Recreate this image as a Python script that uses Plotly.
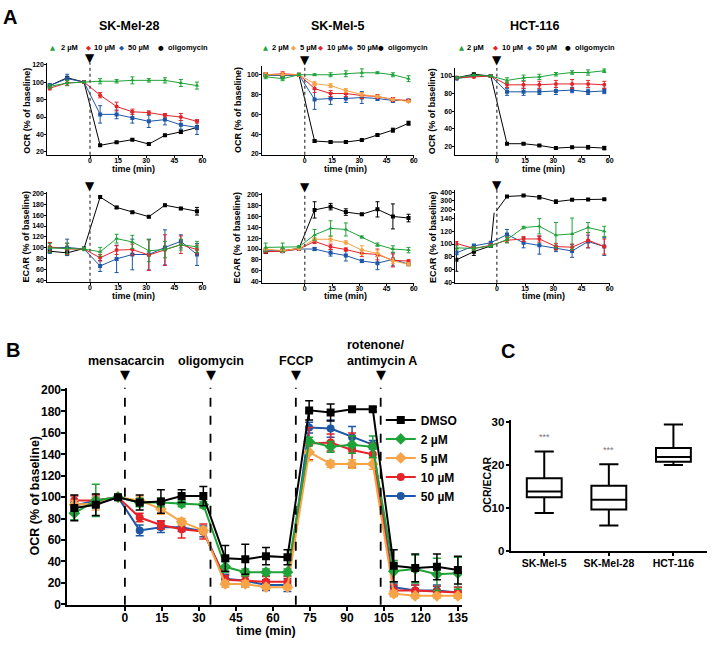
import plotly.graph_objects as go

W, H = 713, 647
FONT = "Liberation Sans, Arial, sans-serif"
SYMF = "DejaVu Sans, sans-serif"


def X(p):
    return p / W


def Y(p):
    return 1 - p / H


GREEN = "#1fa339"
ORANGE = "#f6a447"
RED = "#e52329"
BLUE = "#1d57a5"
BLACK = "#000000"

# ---------------- Panel A data ----------------
t_A = [-21.5, -12.2, -3.2, 5.4, 14.2, 22.6, 31.4, 40.0, 48.5, 57.1]

# SK-Mel-28 OCR
m28_ocr_2 = [95, 99, 100, 101, 101, 102, 102, 102, 99, 96]
m28_ocr_2e = [2, 3, 1, 3, 2, 4, 2, 3, 4, 4]
m28_ocr_10 = [93, 99, 100, 85, 72, 66, 65, 62, 60, 55]
m28_ocr_10e = [2, 3, 1, 3, 5, 3, 2, 2, 4, 2]
m28_ocr_50 = [96, 104, 100, 63, 63, 59, 55, 57, 51, 48]
m28_ocr_50e = [2, 5, 1, 10, 5, 6, 7, 6, 5, 8]
m28_ocr_oli = [96, 105, 100, 27.5, 31, 34, 29, 39, 43, 48]
m28_ocr_olie = [1, 1, 1, 1, 1, 1, 1, 1, 2, 2]

# SK-Mel-5 OCR
m5_ocr_2 = [98, 96, 100, 100, 100, 101, 102, 102, 100, 96]
m5_ocr_2e = [2, 2, 1, 1, 2, 3, 4, 1, 2, 3]
m5_ocr_5 = [100, 100, 100, 91, 89, 84, 80, 78, 75, 73]
m5_ocr_5e = [2, 2, 1, 2, 2, 2, 2, 1, 1, 1]
m5_ocr_10 = [100, 101, 100, 86, 81, 81, 79, 78, 75, 74]
m5_ocr_10e = [2, 2, 1, 4, 3, 3, 3, 2, 2, 1]
m5_ocr_50 = [100, 99, 100, 75, 76, 76, 77, 76, 74, 74]
m5_ocr_50e = [2, 2, 1, 10, 6, 4, 6, 2, 2, 1]
m5_ocr_oli = [100, 99, 100, 33, 32, 32, 34, 39, 44, 51]
m5_ocr_olie = [1, 1, 1, 1, 1, 1, 1, 1, 2, 2]

# HCT-116 OCR
hct_ocr_2 = [98, 101, 100, 95, 98, 99, 102, 104, 104, 106]
hct_ocr_2e = [1, 1, 1, 3, 3, 3, 2, 2, 3, 2]
hct_ocr_10 = [98, 99, 100, 90, 90, 90, 91, 91, 91, 90]
hct_ocr_10e = [1, 1, 1, 3, 4, 4, 4, 5, 4, 4]
hct_ocr_50 = [97, 100, 100, 82, 82, 82, 83, 84, 82, 83]
hct_ocr_50e = [1, 1, 1, 4, 4, 3, 4, 3, 3, 3]
hct_ocr_oli = [98, 102, 100, 23, 23, 21, 18, 19, 19, 18]
hct_ocr_olie = [1, 1, 1, 1, 1, 1, 1, 1, 2, 2]

# SK-Mel-28 ECAR
m28_ecar_2 = [100, 99, 98, 93, 117, 111, 95, 97, 106, 102]
m28_ecar_2e = [8, 10, 3, 8, 8, 12, 20, 15, 10, 10]
m28_ecar_10 = [102, 98, 98, 82, 96, 97, 87, 96, 106, 97]
m28_ecar_10e = [8, 10, 2, 6, 8, 10, 28, 28, 16, 8]
m28_ecar_50 = [100, 101, 98, 67, 80, 88, 88, 101, 112, 88]
m28_ecar_50e = [10, 15, 2, 10, 25, 28, 28, 32, 12, 20]
m28_ecar_oli = [94, 91, 99, 193, 174, 165, 157, 178, 172, 167]
m28_ecar_olie = [3, 4, 2, 2, 2, 2, 2, 2, 2, 7]

# SK-Mel-5 ECAR
m5_ecar_2 = [103, 103, 104, 126, 138, 136, 122, 108, 100, 98]
m5_ecar_2e = [8, 8, 2, 10, 14, 12, 2, 3, 6, 5]
m5_ecar_5 = [100, 97, 101, 118, 118, 112, 98, 92, 78, 72]
m5_ecar_5e = [2, 2, 2, 3, 5, 3, 8, 6, 5, 3]
m5_ecar_10 = [95, 96, 100, 114, 104, 99, 92, 90, 79, 78]
m5_ecar_10e = [2, 2, 2, 4, 5, 3, 6, 10, 12, 2]
m5_ecar_50 = [97, 96, 100, 100, 93, 88, 78, 74, 81, 72]
m5_ecar_50e = [2, 2, 2, 3, 6, 10, 3, 12, 12, 2]
m5_ecar_oli = [95, 97, 101, 172, 178, 168, 164, 173, 160, 157]
m5_ecar_olie = [3, 3, 3, 15, 6, 6, 2, 14, 23, 7]

# HCT-116 ECAR (broken axis)
hct_ecar_2 = [94, 93, 97, 107, 126, 128, 114, 116, 126, 120]
hct_ecar_2e = [3, 3, 2, 5, 2, 12, 20, 25, 8, 8]
hct_ecar_10 = [101, 93, 98, 106, 108, 108, 96, 95, 106, 96]
hct_ecar_10e = [3, 3, 2, 4, 4, 5, 5, 5, 12, 12]
hct_ecar_50 = [86, 97, 102, 115, 102, 98, 93, 89, 104, 96]
hct_ecar_50e = [3, 3, 2, 8, 8, 14, 5, 10, 10, 14]
hct_ecar_oli = [75, 88, 97, 350, 360, 342, 290, 312, 315, 318]
hct_ecar_olie = [18, 6, 2, 6, 6, 20, 20, 8, 8, 6]

# ---------------- Panel B data ----------------
t_B = [-20.5, -11.8, -2.8, 6.0, 14.6, 23.0, 31.8, 40.7, 48.8, 57.2, 65.9,
       74.7, 83.4, 92.1, 100.5, 109.0, 117.7, 126.5, 135.0]
b_dmso = [90, 93, 100, 95, 96, 101, 101, 43, 42, 45, 44, 181, 179, 182, 182, 36, 34, 35, 32]
b_dmso_e = [12, 10, 2, 7, 11, 6, 9, 12, 14, 8, 7, 9, 8, 2, 2, 15, 13, 12, 13]
b_2 = [85, 97, 100, 95, 95, 94, 93, 35, 30, 30, 30, 152, 147, 149, 147, 31, 33, 28, 29]
b_2_e = [6, 15, 2, 4, 4, 3, 3, 5, 3, 3, 3, 4, 5, 8, 10, 10, 13, 15, 15]
b_5 = [93, 94, 100, 97, 89, 77, 69, 19, 19, 16, 16, 142, 131, 131, 131, 10, 8, 8, 8]
b_5_e = [4, 6, 2, 4, 5, 3, 3, 3, 3, 2, 2, 8, 3, 4, 5, 3, 2, 2, 2]
b_10 = [97, 97, 100, 81, 74, 70, 68, 23, 22, 21, 21, 150, 151, 144, 140, 13, 13, 12, 11]
b_10_e = [4, 5, 2, 4, 4, 8, 7, 4, 4, 5, 5, 15, 8, 16, 10, 5, 5, 5, 5]
b_50 = [92, 97, 100, 69, 72, 72, 68, 24, 22, 18, 18, 165, 164, 156, 149, 16, 13, 13, 11]
b_50_e = [3, 3, 2, 5, 5, 4, 5, 4, 6, 5, 6, 5, 8, 10, 4, 4, 5, 5, 5]

# ---------------- Panel C data ----------------
c_cats = ["SK-Mel-5", "SK-Mel-28", "HCT-116"]
c_low = [8.8, 5.9, 20.0]
c_q1 = [12.5, 9.6, 20.8]
c_med = [13.8, 11.9, 21.9]
c_q3 = [16.9, 15.2, 24.0]
c_high = [23.2, 20.2, 29.5]
c_sig = ["***", "***", ""]

fig = go.Figure()


def tf(size):
    return dict(family=FONT, size=size, color="black", weight="bold")


def axis(dom, rng, tickvals, size, anchor, lw=1, ticklen=3, ticktext=None, visible=True, standoff=0):
    d = dict(domain=dom, range=rng, tickvals=tickvals, ticks="outside", ticklen=ticklen,
             tickwidth=lw, tickcolor="black", showline=True, linecolor="black",
             linewidth=lw, showgrid=False, zeroline=False, tickfont=tf(size),
             anchor=anchor, fixedrange=True, visible=visible, ticklabelstandoff=standoff)
    if ticktext is not None:
        d["ticktext"] = ticktext
    return d


layout_axes = {}


def panel(i, xpx, ypx, xr, yr, xt, yt, size, lw=1, ticklen=2, xtext=None, xvisible=True,
          xso=-3, yso=-1):
    xk = "xaxis" if i == 1 else f"xaxis{i}"
    yk = "yaxis" if i == 1 else f"yaxis{i}"
    xa = "x" if i == 1 else f"x{i}"
    ya = "y" if i == 1 else f"y{i}"
    layout_axes[xk] = axis([X(xpx[0]), X(xpx[1])], xr, xt, size, ya, lw, ticklen, xtext, xvisible, xso)
    layout_axes[yk] = axis([Y(ypx[1]), Y(ypx[0])], yr, yt, size, xa, lw, ticklen, None, True, yso)


ticks_t = [0, 15, 30, 45, 60]
panel(1, (47.7, 204.5), (59, 152.7), [-22.8, 60.2], [16.6, 122], ticks_t, [20, 40, 60, 80, 100, 120], 7)
panel(2, (264.3, 417.5), (62, 152.7), [-23.5, 60.1], [19, 109], ticks_t, [20, 40, 60, 80, 100], 7)
panel(3, (459.3, 615.3), (64.3, 152.7), [-22, 60.2], [10.3, 109], ticks_t, [20, 40, 60, 80, 100], 7)
panel(4, (47.7, 204.5), (191, 282), [-22.8, 60.2], [38.2, 201.3], ticks_t, list(range(40, 201, 20)), 7)
panel(5, (264.3, 417.5), (192, 283), [-23.5, 60.1], [37.9, 202.3], ticks_t, list(range(40, 201, 20)), 7)
panel(6, (459.3, 615.3), (211.7, 283), [-22, 60.2], [38.9, 149.3], ticks_t, [40, 60, 80, 100, 120, 140], 7)
panel(7, (459.3, 615.3), (188, 210), [-22, 60.2], [180.7, 430.7], ticks_t, [200, 300, 400], 7, xvisible=False)
panel(8, (68, 466), (390, 611), [-23.3, 136.7], [-0.3, 202.1], [0, 15, 30, 45, 60, 75, 90, 105, 120, 135],
      list(range(0, 201, 20)), 12, lw=2, ticklen=4, xso=-3, yso=-2)
panel(9, (515, 713), (423, 556), [-0.52, 2.52], [0, 30.5], [0, 1, 2], [0, 10, 20, 30], 11.5, lw=2,
      ticklen=3, xtext=c_cats, xso=-1, yso=-1)
layout_axes["xaxis9"]["tickfont"] = tf(10.5)


def series(i, x, y, e, color, symbol, size=4, lw=1, ew=2, et=1, name=None, legend=False, rank=None):
    xa = "x" if i == 1 else f"x{i}"
    ya = "y" if i == 1 else f"y{i}"
    tr = go.Scatter(x=x, y=y, xaxis=xa, yaxis=ya, mode="lines+markers",
                    line=dict(color=color, width=lw),
                    marker=dict(color=color, symbol=symbol, size=size, line=dict(width=0)),
                    error_y=dict(type="data", array=e, color=color, thickness=et, width=ew),
                    showlegend=legend, name=name)
    if rank is not None:
        tr.legendrank = rank
    fig.add_trace(tr)


# Panel A traces
series(1, t_A, m28_ocr_oli, m28_ocr_olie, BLACK, "square")
series(1, t_A, m28_ocr_50, m28_ocr_50e, BLUE, "square")
series(1, t_A, m28_ocr_10, m28_ocr_10e, RED, "circle")
series(1, t_A, m28_ocr_2, m28_ocr_2e, GREEN, "triangle-up")

series(2, t_A, m5_ocr_oli, m5_ocr_olie, BLACK, "square")
series(2, t_A, m5_ocr_50, m5_ocr_50e, BLUE, "square")
series(2, t_A, m5_ocr_10, m5_ocr_10e, RED, "circle")
series(2, t_A, m5_ocr_5, m5_ocr_5e, ORANGE, "diamond")
series(2, t_A, m5_ocr_2, m5_ocr_2e, GREEN, "triangle-up")

series(3, t_A, hct_ocr_oli, hct_ocr_olie, BLACK, "square")
series(3, t_A, hct_ocr_50, hct_ocr_50e, BLUE, "square")
series(3, t_A, hct_ocr_10, hct_ocr_10e, RED, "circle")
series(3, t_A, hct_ocr_2, hct_ocr_2e, GREEN, "triangle-up")

series(4, t_A, m28_ecar_oli, m28_ecar_olie, BLACK, "square")
series(4, t_A, m28_ecar_50, m28_ecar_50e, BLUE, "square")
series(4, t_A, m28_ecar_10, m28_ecar_10e, RED, "circle")
series(4, t_A, m28_ecar_2, m28_ecar_2e, GREEN, "triangle-up")

series(5, t_A, m5_ecar_oli, m5_ecar_olie, BLACK, "square")
series(5, t_A, m5_ecar_50, m5_ecar_50e, BLUE, "square")
series(5, t_A, m5_ecar_10, m5_ecar_10e, RED, "circle")
series(5, t_A, m5_ecar_5, m5_ecar_5e, ORANGE, "diamond")
series(5, t_A, m5_ecar_2, m5_ecar_2e, GREEN, "triangle-up")

series(6, t_A, hct_ecar_oli, hct_ecar_olie, BLACK, "square")
series(6, t_A, hct_ecar_50, hct_ecar_50e, BLUE, "square")
series(6, t_A, hct_ecar_10, hct_ecar_10e, RED, "circle")
series(6, t_A, hct_ecar_2, hct_ecar_2e, GREEN, "triangle-up")
series(7, t_A, hct_ecar_oli, hct_ecar_olie, BLACK, "square")

# Panel B traces
series(8, t_B, b_50, b_50_e, BLUE, "circle", size=8, lw=2, ew=4, et=1.5, name="50 µM", legend=True, rank=5)
series(8, t_B, b_10, b_10_e, RED, "circle", size=8, lw=2, ew=4, et=1.5, name="10 µM", legend=True, rank=4)
series(8, t_B, b_5, b_5_e, ORANGE, "diamond", size=9, lw=2, ew=4, et=1.5, name="5 µM", legend=True, rank=3)
series(8, t_B, b_2, b_2_e, GREEN, "diamond", size=9, lw=2, ew=4, et=1.5, name="2 µM", legend=True, rank=2)
series(8, t_B, b_dmso, b_dmso_e, BLACK, "square", size=8, lw=2, ew=4, et=1.5, name="DMSO", legend=True, rank=1)

# Panel C boxes
for k in range(3):
    fig.add_trace(go.Box(x=[k], q1=[c_q1[k]], median=[c_med[k]], q3=[c_q3[k]],
                         lowerfence=[c_low[k]], upperfence=[c_high[k]],
                         xaxis="x9", yaxis="y9", width=0.54, whiskerwidth=0.55,
                         line=dict(color="black", width=2), fillcolor="white",
                         showlegend=False, boxpoints=False))

shapes = []
annotations = []


def ann(text, xpx, ypx, size, xanchor="center", yanchor="middle", angle=0, color="black",
        family=FONT, bold=True, align="center"):
    annotations.append(dict(text=text, x=X(xpx), y=Y(ypx), xref="paper", yref="paper",
                            xanchor=xanchor, yanchor=yanchor, showarrow=False, textangle=angle,
                            align=align,
                            font=dict(family=family, size=size, color=color,
                                      weight="bold" if bold else "normal")))


# Dotted injection lines in panel A
for i in (1, 2, 3, 4, 5):
    xa = "x" if i == 1 else f"x{i}"
    ya = "y" if i == 1 else f"y{i}"
    shapes.append(dict(type="line", xref=xa, yref=f"{ya} domain", x0=0, x1=0, y0=0, y1=1,
                       line=dict(color="#444", width=1.3, dash="dot")))
shapes.append(dict(type="line", xref="x6", yref="paper", x0=0, x1=0, y0=Y(283), y1=Y(188),
                   line=dict(color="#444", width=1.3, dash="dot")))

# Panel B injection lines
for tinj in (0, 34.7, 69.3, 103.7):
    shapes.append(dict(type="line", xref="x8", yref="y8 domain", x0=tinj, x1=tinj, y0=0, y1=1,
                       line=dict(color="black", width=1.8, dash="dash")))

# triangles
for xpx, ypx in [(91, 54), (307.3, 56), (501, 56), (91, 184), (307.3, 185), (501, 183)]:
    ann("▼", xpx, ypx, 12, family=SYMF, bold=False)
for xpx in (126, 212.3, 298.3, 384):
    ann("▼", xpx, 376, 13, family=SYMF, bold=False)

# Panel letters
ann("A", 1, 12, 20, xanchor="left")
ann("B", 4, 352, 20, xanchor="left")
ann("C", 512, 353, 20)

# Titles A
ann("SK-Mel-28", 130, 21, 12.5)
ann("SK-Mel-5", 341, 21, 12.5)
ann("HCT-116", 539, 21, 12.5)

# Panel A legends
LY = 43.5


def leg(sym, xm, color, label, xt):
    ann(sym, xm, LY, 6.5, color=color, family=SYMF, bold=False)
    ann(label, xt, LY, 7.5, xanchor="left")


leg("▲", 53, GREEN, "2 µM", 59)
leg("◆", 89, RED, "10 µM", 93)
leg("◆", 123, BLUE, "50 µM", 127.5)
leg("●", 162, BLACK, "oligomycin", 167)

leg("▲", 267.7, GREEN, "2 µM", 272.5)
leg("◆", 296, ORANGE, "5 µM", 300.5)
leg("◆", 323.3, RED, "10 µM", 327.5)
leg("◆", 353.3, BLUE, "50 µM", 358)
leg("●", 384, BLACK, "oligomycin", 389)

leg("▲", 465, GREEN, "2 µM", 468.5)
leg("◆", 500, RED, "10 µM", 504.5)
leg("◆", 534, BLUE, "50 µM", 539)
leg("●", 573.3, BLACK, "oligomycin", 578)

# A axis titles
for xpx, ypx in [(27, 108), (240, 107), (436, 108)]:
    ann("OCR (% of baseline)", xpx, ypx, 9, angle=-90)
for xpx, ypx in [(26, 236), (239, 237), (436, 236)]:
    ann("ECAR (% of baseline)", xpx, ypx, 9, angle=-90)
for xpx in (135, 348, 548):
    ann("time (min)", xpx, 167, 9)
    ann("time (min)", xpx, 297, 9)

# Panel B labels
ann("mensacarcin", 127.5, 363, 12.5)
ann("oligomycin", 213, 363, 12.5)
ann("FCCP", 299, 363, 12.5)
ann("rotenone/<br>antimycin A", 348, 355, 12.5, xanchor="left", align="left")
ann("OCR (% of baseline)", 35, 500, 12.5, angle=-90)
ann("time (min)", 268, 638, 12.5)

# Panel C labels
ann("OCR/ECAR", 491, 489, 10.5, angle=-90)
for k in range(3):
    if c_sig[k]:
        annotations.append(dict(text=c_sig[k], x=k, y=c_high[k] + 1.8, xref="x9", yref="y9",
                                showarrow=False, yanchor="bottom",
                                font=dict(family=FONT, size=9, color="#777")))

fig.update_layout(
    width=W, height=H, margin=dict(l=0, r=0, t=0, b=0),
    paper_bgcolor="white", plot_bgcolor="white",
    shapes=shapes, annotations=annotations,
    showlegend=True,
    legend=dict(x=X(384), y=Y(408), xanchor="left", yanchor="top", font=tf(12),
                bgcolor="rgba(0,0,0,0)", itemwidth=30, tracegroupgap=0,
                traceorder="normal"),
    **layout_axes,
)

fig.write_html("out.html", config={"displayModeBar": False},
               post_script="document.body.style.margin='0';")
